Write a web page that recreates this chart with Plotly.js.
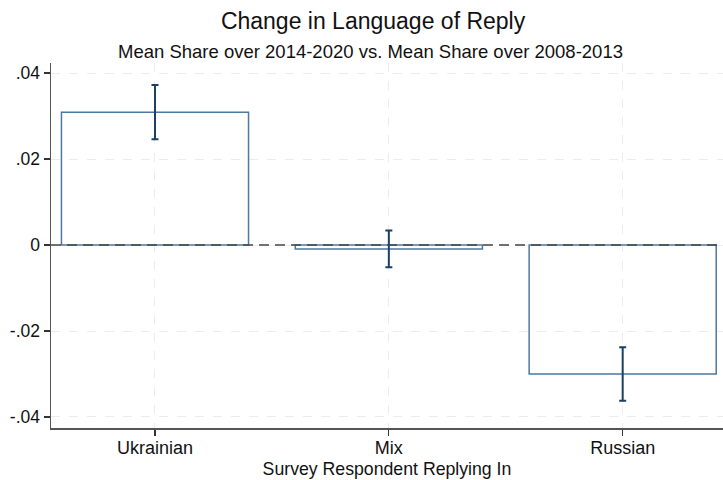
<!DOCTYPE html>
<html>
<head>
<meta charset="utf-8">
<script src="https://cdn.plot.ly/plotly-3.0.1.min.js"></script>
<style>
  html, body { margin: 0; padding: 0; background: #fff; }
  #chart { width: 723px; height: 480px; }
</style>
</head>
<body>
<div id="chart"></div>
<script>
// Change in reply-language share, 2014-2020 mean minus 2008-2013 mean
const categories = ['Ukrainian', 'Mix', 'Russian'];
const meanChange = [0.0309, -0.0009, -0.0300];
const ciHalfWidth = [0.0063, 0.0043, 0.0062];

const yTickVals = [-0.04, -0.02, 0, 0.02, 0.04];
const yTickText = ['-.04', '-.02', '0', '.02', '.04'];

const FONT = 'Liberation Sans, Arial, sans-serif';

const bars = {
  type: 'bar',
  x: [0, 1, 2],
  y: meanChange,
  width: 0.8,
  marker: {
    color: 'rgba(255,255,255,0)',
    line: { color: '#4f78a1', width: 1.5 }
  },
  error_y: {
    type: 'data',
    array: ciHalfWidth,
    visible: true,
    color: '#1d3f64',
    thickness: 2,
    width: 3.5
  },
  hoverinfo: 'skip',
  showlegend: false
};

const layout = {
  width: 723,
  height: 480,
  margin: { l: 51, r: 0, t: 63, b: 52 },
  paper_bgcolor: '#ffffff',
  plot_bgcolor: '#ffffff',
  font: { family: FONT, color: '#111' },
  title: {
    text: 'Change in Language of Reply',
    font: { family: FONT, size: 23, color: '#111' },
    x: 0.516, xanchor: 'center',
    y: 0.94, yanchor: 'bottom',
    yref: 'container'
  },
  annotations: [{
    text: 'Mean Share over 2014-2020 vs. Mean Share over 2008-2013',
    xref: 'paper', yref: 'paper',
    x: 0.476, y: 1.0, xanchor: 'center', yanchor: 'bottom',
    yshift: -1,
    showarrow: false,
    font: { family: FONT, size: 18.5, color: '#111' }
  }],
  xaxis: {
    range: [-0.4447, 2.429],
    tickvals: [0, 1, 2],
    ticktext: categories,
    ticks: 'outside',
    ticklen: 6,
    tickwidth: 1.3,
    tickcolor: '#333',
    ticklabelstandoff: -3,
    tickfont: { family: FONT, size: 18, color: '#111' },
    showline: true,
    linecolor: '#555',
    linewidth: 1.5,
    showgrid: true,
    gridcolor: '#ececec',
    griddash: 'dash',
    gridwidth: 1,
    zeroline: false,
    title: {
      text: 'Survey Respondent Replying In',
      font: { family: FONT, size: 17.7, color: '#111' },
      standoff: 5
    }
  },
  yaxis: {
    range: [-0.04256, 0.04233],
    tickvals: yTickVals,
    ticktext: yTickText,
    ticks: 'outside',
    ticklen: 6,
    tickwidth: 1.3,
    tickcolor: '#333',
    tickfont: { family: FONT, size: 17.5, color: '#111' },
    showline: true,
    linecolor: '#555',
    linewidth: 1.5,
    showgrid: true,
    gridcolor: '#ececec',
    griddash: 'dash',
    gridwidth: 1,
    zeroline: false
  },
  shapes: [{
    type: 'line',
    xref: 'paper', yref: 'y',
    x0: 0, x1: 1, y0: 0, y1: 0,
    layer: 'above',
    line: { color: '#444', width: 1.5, dash: '10px,6px' }
  }]
};

Plotly.newPlot('chart', [bars], layout, { displayModeBar: false, staticPlot: true });
</script>
</body>
</html>
